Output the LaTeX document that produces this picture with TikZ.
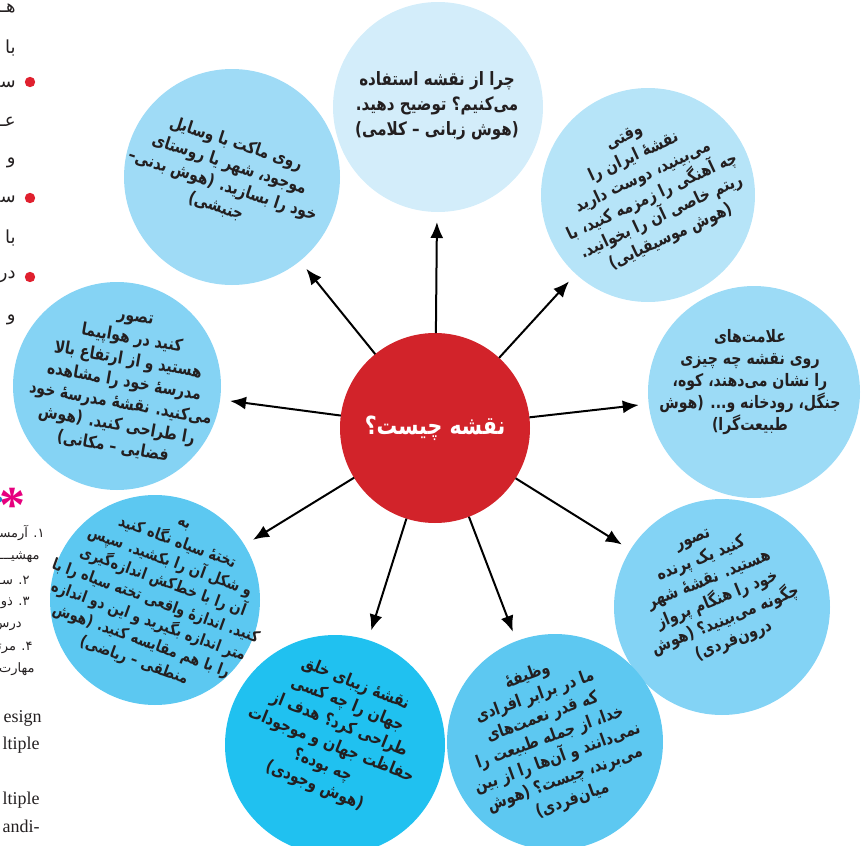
\documentclass[tikz,border=0pt]{standalone}
\usepackage{fontspec}
\setmainfont{Liberation Serif}
\newfontfamily\fa[Script=Arabic, FakeStretch=0.82]{DejaVu Sans}
\newfontfamily\fan[Script=Arabic]{DejaVu Sans}
\TeXXeTstate=1
\usetikzlibrary{arrows.meta}
\definecolor{mapred}{HTML}{D2232A}
\definecolor{qtop}{HTML}{D3EDFA}
\definecolor{qul}{HTML}{9FDBF6}
\definecolor{qur}{HTML}{B6E4F8}
\definecolor{qleft}{HTML}{85D3F4}
\definecolor{qright}{HTML}{9CDBF6}
\definecolor{qll}{HTML}{5CC8F1}
\definecolor{qlr}{HTML}{83D3F5}
\definecolor{qbl}{HTML}{20C1F0}
\definecolor{qbr}{HTML}{5DC8F1}
\definecolor{ink}{HTML}{231F20}
\definecolor{dotred}{HTML}{E0202E}
\definecolor{starpink}{HTML}{E6007E}
\definecolor{headblue}{HTML}{1E88C8}
\newcommand\rl[1]{\beginR #1\endR}

\begin{document}
\begin{tikzpicture}[x=0.5pt,y=0.5pt,
  bub/.style={circle, inner sep=0pt, outer sep=0pt},
  txt/.style={align=center, inner sep=0pt, text=ink, font=\fa\bfseries\fontsize{8.6}{11}\selectfont},
  arr/.style={-{Latex[length=8pt,width=6.5pt]}, line width=1pt, shorten >=5pt},
  frag/.style={anchor=east, inner sep=0pt, text=ink, font=\fan\fontsize{9}{9}\selectfont},
  note/.style={anchor=east, inner sep=0pt, text=ink, font=\fan\fontsize{6.5}{6.5}\selectfont},
  latin/.style={anchor=east, inner sep=0pt, text=ink, font=\fontsize{9}{9}\selectfont}]
\useasboundingbox (0,0) rectangle (863,-846);

\node[bub, fill=qtop, minimum size=105pt] (q1) at (438,-107) {};
\node[bub, fill=qul, minimum size=108pt] (q2) at (232,-177) {};
\node[bub, fill=qur, minimum size=107pt] (q3) at (648,-195) {};
\node[bub, fill=qleft, minimum size=104pt] (q4) at (117,-386) {};
\node[bub, fill=qright, minimum size=106pt] (q5) at (754,-392) {};
\node[bub, fill=qll, minimum size=105pt] (q6) at (155,-600) {};
\node[bub, fill=qlr, minimum size=108pt] (q7) at (722,-607) {};
\node[bub, fill=qbl, minimum size=110pt] (q8) at (335,-745) {};
\node[bub, fill=qbr, minimum size=108pt] (q9) at (555,-742) {};
\node[bub, fill=mapred, minimum size=95pt, text=white,
  font=\fa\bfseries\fontsize{12.5}{15}\selectfont] (map) at (435,-428) {\rl{نقشه چیست؟}};

\node[txt, font=\fa\bfseries\fontsize{9.2}{12.5}\selectfont] (t1) at (437,-106) {\rl{چرا از نقشه استفاده}\\\rl{می‌کنیم؟ توضیح دهید.}\\\rl{(هوش زبانی – کلامی)}};
\node[txt, rotate=-18] (t2) at (226,-175) {\rl{روی ماکت با وسایل}\\\rl{موجود، شهر یا روستای}\\\rl{خود را بسازید. (هوش بدنی–}\\\rl{جنبشی)}};
\node[txt, rotate=25] (t3) at (648,-188) {\rl{وقتی}\\\rl{نقشهٔ ایران را}\\\rl{می‌بینید، دوست دارید}\\\rl{چه آهنگی را زمزمه کنید، با}\\\rl{ریتم خاصی آن را بخوانید.}\\\rl{(هوش موسیقیایی)}};
\node[txt, rotate=-10] (t4) at (124,-384) {\rl{تصور}\\\rl{کنید در هواپیما}\\\rl{هستید و از ارتفاع بالا}\\\rl{مدرسهٔ خود را مشاهده}\\\rl{می‌کنید. نقشهٔ مدرسهٔ خود}\\\rl{را طراحی کنید. (هوش}\\\rl{فضایی – مکانی)}};
\node[txt] (t5) at (750,-382) {\rl{علامت‌های}\\\rl{روی نقشه چه چیزی}\\\rl{را نشان می‌دهند، کوه،}\\\rl{جنگل، رودخانه و... (هوش}\\\rl{طبیعت‌گرا)}};
\node[txt, rotate=-20, font=\fa\bfseries\fontsize{8}{10.5}\selectfont] (t6) at (158,-595) {\rl{به}\\\rl{تختهٔ سیاه نگاه کنید}\\\rl{و شکل آن را بکشید. سپس}\\\rl{آن را با خط‌کش اندازه‌گیری}\\\rl{کنید. اندازهٔ واقعی تخته سیاه را با}\\\rl{متر اندازه بگیرید و این دو اندازه}\\\rl{را با هم مقایسه کنید. (هوش}\\\rl{منطقی – ریاضی)}};
\node[txt, rotate=22] (t7) at (714,-592) {\rl{تصور}\\\rl{کنید یک پرنده}\\\rl{هستید. نقشهٔ شهر}\\\rl{خود را هنگام پرواز}\\\rl{چگونه می‌بینید؟ (هوش}\\\rl{درون‌فردی)}};
\node[txt, rotate=-22] (t8) at (335,-735) {\rl{نقشهٔ زیبای خلق}\\\rl{جهان را چه کسی}\\\rl{طراحی کرد؟ هدف از}\\\rl{حفاظت جهان و موجودات}\\\rl{چه بوده؟}\\\rl{(هوش وجودی)}};
\node[txt, rotate=20] (t9) at (550,-738) {\rl{وظیفهٔ}\\\rl{ما در برابر افرادی}\\\rl{که قدر نعمت‌های}\\\rl{خدا، از جمله طبیعت را}\\\rl{نمی‌دانند و آن‌ها را از بین}\\\rl{می‌برند، چیست؟ (هوش}\\\rl{میان‌فردی)}};

\draw[arr] (map) -- (q1);
\draw[arr] (map) -- (q2);
\draw[arr] (map) -- (q3);
\draw[arr] (map) -- (q4);
\draw[arr] (map) -- (q5);
\draw[arr] (map) -- (q6);
\draw[arr] (map) -- (q7);
\draw[arr] (map) -- (q8);
\draw[arr] (map) -- (q9);

\node[frag] (f1) at (16,-8) {\rl{هــــ}};
\node[frag] (f2) at (16,-48) {\rl{با}};
\node[frag] (f3) at (16,-84) {\rl{ســـ}};
\node[frag] (f4) at (16,-122) {\rl{عــــ}};
\node[frag] (f5) at (16,-163) {\rl{و}};
\node[frag] (f6) at (16,-199) {\rl{ســـ}};
\node[frag] (f7) at (16,-238) {\rl{با}};
\node[frag] (f8) at (16,-277) {\rl{در}};
\node[frag] (f9) at (16,-320) {\rl{و}};
\fill[dotred] (30,-82) circle (2.6pt) (30,-198) circle (2.6pt) (30,-277) circle (2.6pt);

\node[inner sep=0pt, text=starpink, font=\bfseries\fontsize{26}{26}\selectfont] (star) at (12,-505) {*};
\node[anchor=east, inner sep=0pt, text=headblue, font=\fan\bfseries\fontsize{9}{9}\selectfont] (g0) at (4,-500) {\rl{مـــ}};
\node[note] (g1) at (45,-533) {\rl{۱. آرمســـ}};
\node[note] (g2) at (40,-557) {\rl{مهشیـــ}};
\node[note] (g3) at (30,-580) {\rl{۲. ســـ}};
\node[note] (g4) at (30,-603) {\rl{۳. ذو}};
\node[note] (g5) at (22,-626) {\rl{درس}};
\node[note] (g6) at (33,-648) {\rl{۴. مرتـــ}};
\node[note] (g7) at (35,-669) {\rl{مهارت}};
\node[latin] (e1) at (42,-718) {esign};
\node[latin] (e2) at (40,-745) {ltiple};
\node[latin] (e3) at (40,-800) {ltiple};
\node[latin] (e4) at (40,-826) {andi-};
\end{tikzpicture}
\end{document}
